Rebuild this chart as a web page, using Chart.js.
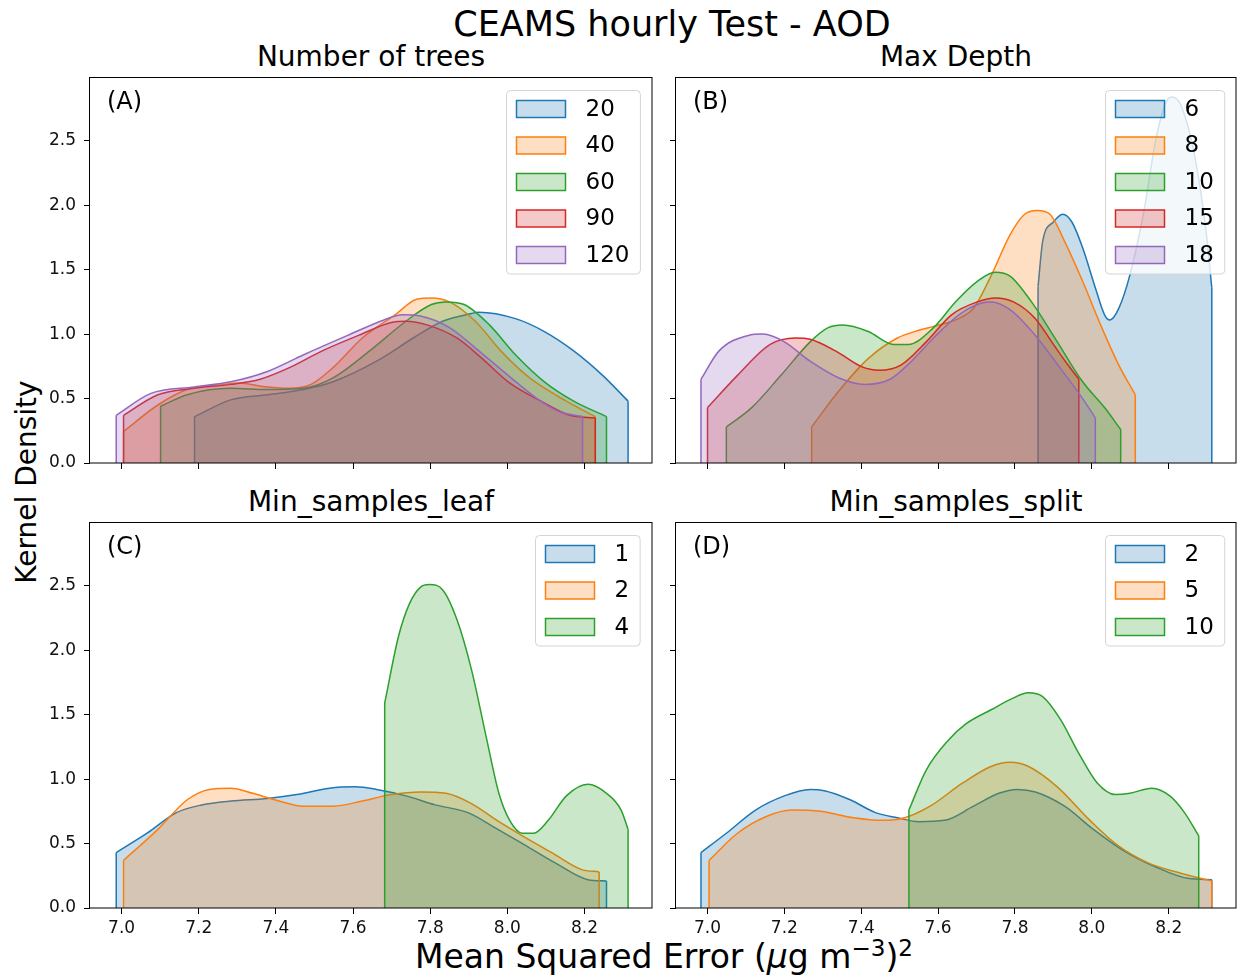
<!DOCTYPE html>
<html>
<head>
<meta charset="utf-8">
<title>CEAMS hourly Test - AOD</title>
<script src="https://cdn.jsdelivr.net/npm/chart.js@4.4.0/dist/chart.umd.min.js"></script>
<style>
  html, body { margin: 0; padding: 0; background: #fff; overflow: hidden; }
  #figure { position: relative; width: 1238px; height: 978px; font-family: 'DejaVu Sans', sans-serif; color: #000; }
  #figure canvas { position: absolute; }
  .txt { position: absolute; white-space: nowrap; line-height: 1; }
  .center { transform: translateX(-50%); }
  .suptitle { font-size: 35px; }
  .subtitle { font-size: 28px; }
  .tag { font-size: 24px; }
  .xlabel { font-size: 33px; }
  .ylabel { font-size: 28px; }
  #ylabel { transform: translate(-50%, -50%) rotate(-90deg); }
  sup { font-size: 0.7em; vertical-align: 0.5em; line-height: 0; }
</style>
</head>
<body>
<div id="figure">
  <div class="txt center suptitle" style="left:672px; top:7px;">CEAMS hourly Test - AOD</div>
  <div class="txt center subtitle" style="left:371px; top:43px;">Number of trees</div>
  <div class="txt center subtitle" style="left:956px; top:43px;">Max Depth</div>
  <div class="txt center subtitle" style="left:371px; top:488px;">Min_samples_leaf</div>
  <div class="txt center subtitle" style="left:956px; top:488px;">Min_samples_split</div>
  <div class="txt center xlabel" style="left:664px; top:940px;">Mean Squared Error (<i>μ</i>g m<sup>−3</sup>)<sup>2</sup></div>
  <div class="txt ylabel" id="ylabel" style="left:27px; top:482px;">Kernel Density</div>
</div>

<script>
// axis ticks
const xTicks = [7.0, 7.2, 7.4, 7.6, 7.8, 8.0, 8.2];
const xTickLabels = ['7.0', '7.2', '7.4', '7.6', '7.8', '8.0', '8.2'];
const yTicks = [0, 0.5, 1.0, 1.5, 2.0, 2.5];
const yTickLabels = ['0.0', '0.5', '1.0', '1.5', '2.0', '2.5'];

// (A) Number of trees  -- [MSE, density]
const treesLabels = ['20', '40', '60', '90', '120'];
const trees20 = [[7.189,0.36],[7.283,0.49],[7.378,0.53],[7.472,0.57],[7.548,0.63],[7.661,0.79],[7.756,0.97],[7.832,1.10],[7.907,1.16],[7.926,1.17],[8.021,1.12],[8.096,1.02],[8.172,0.87],[8.247,0.68],[8.313,0.48]];
const trees40 = [[7.005,0.245],[7.094,0.45],[7.170,0.57],[7.265,0.61],[7.302,0.62],[7.378,0.59],[7.435,0.58],[7.491,0.61],[7.548,0.74],[7.624,0.97],[7.709,1.15],[7.765,1.27],[7.803,1.28],[7.850,1.25],[7.917,1.10],[7.983,0.87],[8.058,0.66],[8.153,0.48],[8.228,0.36]];
const trees60 = [[7.101,0.44],[7.170,0.53],[7.283,0.58],[7.378,0.57],[7.472,0.58],[7.548,0.66],[7.643,0.87],[7.737,1.10],[7.803,1.23],[7.841,1.25],[7.888,1.23],[7.954,1.07],[8.021,0.84],[8.096,0.63],[8.172,0.48],[8.257,0.36]];
const trees90 = [[7.005,0.37],[7.094,0.53],[7.189,0.58],[7.283,0.61],[7.359,0.65],[7.435,0.74],[7.520,0.87],[7.614,0.99],[7.699,1.09],[7.737,1.10],[7.794,1.07],[7.869,0.97],[7.935,0.81],[8.002,0.63],[8.087,0.48],[8.162,0.37],[8.228,0.35]];
const trees120 = [[6.986,0.37],[7.076,0.54],[7.189,0.59],[7.283,0.63],[7.378,0.71],[7.472,0.84],[7.586,0.99],[7.680,1.11],[7.728,1.15],[7.775,1.14],[7.850,1.05],[7.926,0.87],[8.002,0.68],[8.077,0.50],[8.134,0.40],[8.195,0.36]];

// (B) Max Depth
const depthLabels = ['6', '8', '10', '15', '18'];
const depth6 = [[7.860,1.37],[7.872,1.72],[7.900,1.87],[7.924,1.93],[7.948,1.87],[7.976,1.67],[8.009,1.36],[8.033,1.15],[8.047,1.11],[8.070,1.20],[8.099,1.46],[8.137,1.98],[8.165,2.49],[8.193,2.80],[8.208,2.84],[8.231,2.78],[8.269,2.36],[8.297,1.80],[8.312,1.36]];
const depth8 = [[7.271,0.28],[7.342,0.56],[7.418,0.81],[7.494,0.97],[7.550,1.03],[7.588,1.06],[7.645,1.11],[7.692,1.20],[7.739,1.46],[7.787,1.77],[7.825,1.93],[7.858,1.96],[7.891,1.93],[7.929,1.72],[7.976,1.41],[8.023,1.07],[8.070,0.76],[8.113,0.53]];
const depth10 = [[7.049,0.28],[7.115,0.43],[7.191,0.68],[7.267,0.94],[7.314,1.05],[7.352,1.07],[7.418,1.02],[7.484,0.92],[7.522,0.92],[7.588,1.05],[7.645,1.25],[7.702,1.41],[7.749,1.48],[7.787,1.45],[7.843,1.25],[7.910,0.94],[7.976,0.63],[8.033,0.43],[8.075,0.26]];
const depth15 = [[7.000,0.43],[7.078,0.68],[7.163,0.92],[7.229,0.97],[7.267,0.96],[7.333,0.87],[7.399,0.75],[7.446,0.72],[7.503,0.76],[7.569,0.94],[7.635,1.15],[7.702,1.25],[7.749,1.28],[7.796,1.25],[7.853,1.12],[7.900,0.92],[7.938,0.76],[7.966,0.65]];
const depth18 = [[6.983,0.65],[7.030,0.87],[7.106,0.99],[7.144,1.00],[7.200,0.94],[7.267,0.79],[7.342,0.66],[7.409,0.61],[7.475,0.65],[7.531,0.79],[7.588,0.97],[7.654,1.15],[7.711,1.24],[7.739,1.25],[7.787,1.19],[7.853,0.99],[7.919,0.73],[7.976,0.50],[8.009,0.35]];

// (C) Min_samples_leaf
const leafLabels = ['1', '2', '4'];
const leaf1 = [[6.986,0.43],[7.066,0.58],[7.142,0.74],[7.208,0.80],[7.283,0.83],[7.378,0.85],[7.454,0.88],[7.539,0.93],[7.605,0.94],[7.661,0.92],[7.737,0.87],[7.813,0.80],[7.898,0.74],[7.964,0.63],[8.039,0.50],[8.124,0.35],[8.209,0.22],[8.257,0.21]];
const leaf2 = [[7.005,0.37],[7.094,0.61],[7.170,0.84],[7.227,0.92],[7.283,0.93],[7.340,0.89],[7.397,0.84],[7.472,0.79],[7.548,0.79],[7.624,0.83],[7.699,0.88],[7.775,0.90],[7.841,0.89],[7.907,0.81],[7.973,0.68],[8.039,0.56],[8.115,0.43],[8.191,0.30],[8.238,0.28]];
const leaf4 = [[7.682,1.59],[7.718,2.11],[7.746,2.36],[7.775,2.49],[7.798,2.51],[7.832,2.47],[7.869,2.24],[7.907,1.85],[7.945,1.33],[7.978,0.89],[8.006,0.68],[8.039,0.58],[8.068,0.58],[8.106,0.68],[8.153,0.87],[8.209,0.96],[8.257,0.89],[8.295,0.76],[8.313,0.61]];

// (D) Min_samples_split
const splitLabels = ['2', '5', '10'];
const split2 = [[6.983,0.43],[7.049,0.58],[7.125,0.76],[7.200,0.87],[7.267,0.92],[7.304,0.91],[7.371,0.84],[7.437,0.74],[7.494,0.70],[7.550,0.67],[7.617,0.68],[7.692,0.79],[7.758,0.89],[7.806,0.92],[7.853,0.90],[7.929,0.79],[8.004,0.61],[8.080,0.45],[8.165,0.32],[8.250,0.23],[8.312,0.22]];
const split5 = [[7.004,0.37],[7.078,0.58],[7.153,0.71],[7.219,0.76],[7.295,0.75],[7.380,0.70],[7.456,0.68],[7.513,0.70],[7.579,0.79],[7.664,0.97],[7.739,1.10],[7.787,1.13],[7.834,1.10],[7.910,0.94],[7.995,0.68],[8.070,0.48],[8.146,0.35],[8.231,0.27],[8.312,0.21]];
const split10 = [[7.524,0.76],[7.569,1.07],[7.626,1.30],[7.673,1.43],[7.739,1.54],[7.796,1.63],[7.834,1.67],[7.872,1.64],[7.919,1.46],[7.966,1.20],[8.014,0.97],[8.061,0.88],[8.099,0.89],[8.156,0.93],[8.203,0.87],[8.241,0.74],[8.278,0.56]];

const tab10 = ['#1f77b4', '#ff7f0e', '#2ca02c', '#d62728', '#9467bd'];

const X_MIN = 6.918, X_MAX = 8.375;
const Y_MIN = 0, Y_MAX = 2.995;
const PAD_TOP = 22, X_AXIS_H = 40;

function rgba(hex, a) {
  const n = parseInt(hex.slice(1), 16);
  return `rgba(${(n >> 16) & 255}, ${(n >> 8) & 255}, ${n & 255}, ${a})`;
}

// vertical edges where each clipped kde starts / stops
const edgePlugin = {
  id: 'kdeEdges',
  afterDatasetDraw(chart, args) {
    const ds = chart.data.datasets[args.index];
    const pts = ds.data;
    const xs = chart.scales.x, ys = chart.scales.y;
    const base = ys.getPixelForValue(0);
    const ctx = chart.ctx;
    ctx.save();
    ctx.strokeStyle = ds.borderColor;
    ctx.lineWidth = ds.borderWidth;
    ctx.beginPath();
    [pts[0], pts[pts.length - 1]].forEach(pt => {
      const px = xs.getPixelForValue(pt.x);
      ctx.moveTo(px, base);
      ctx.lineTo(px, ys.getPixelForValue(pt.y));
    });
    ctx.stroke();
    ctx.restore();
  }
};

// matplotlib-like legend box in the upper right corner
const legendPlugin = {
  id: 'boxLegend',
  afterDatasetsDraw(chart) {
    const { ctx, chartArea } = chart;
    const sets = chart.data.datasets;
    ctx.save();
    ctx.font = '23px "DejaVu Sans"';
    const textW = Math.max(...sets.map(d => ctx.measureText(d.label).width));
    const rowH = 36.5;
    const w = 10 + 49 + 20 + textW + 11;
    const h = 18.5 + (sets.length - 1) * rowH + 19;
    const x = Math.round(chartArea.right - 12 - w) + 0.5;
    const y = Math.round(chartArea.top + 13) + 0.5;
    ctx.beginPath();
    ctx.roundRect(x, y, w, h, 4);
    ctx.fillStyle = 'rgba(255,255,255,0.8)';
    ctx.fill();
    ctx.strokeStyle = '#d4d4d4';
    ctx.lineWidth = 1;
    ctx.stroke();
    sets.forEach((d, i) => {
      const cy = y + 18.5 + i * rowH;
      ctx.fillStyle = d.backgroundColor;
      ctx.fillRect(x + 10, cy - 8.5, 49, 17);
      ctx.strokeStyle = d.borderColor;
      ctx.lineWidth = 1.5;
      ctx.strokeRect(x + 10, cy - 8.5, 49, 17);
      ctx.fillStyle = '#000';
      ctx.textBaseline = 'middle';
      ctx.fillText(d.label, x + 79, cy + 1);
    });
    ctx.restore();
  }
};

// full box around the axes
const framePlugin = {
  id: 'frame',
  afterDraw(chart) {
    const { ctx, chartArea: a } = chart;
    ctx.save();
    ctx.strokeStyle = '#000';
    ctx.lineWidth = 1;
    ctx.strokeRect(Math.round(a.left) - 0.5, Math.round(a.top) + 0.5,
      Math.round(a.right - a.left) + 0.5, Math.round(a.bottom - a.top) - 0.5);
    ctx.restore();
  }
};

const panels = [
  { tag: '(A)', labels: treesLabels, curves: [trees20, trees40, trees60, trees90, trees120],
    left: 90, top: 77, right: 652, bottom: 463, xLabels: false, yLabels: true },
  { tag: '(B)', labels: depthLabels, curves: [depth6, depth8, depth10, depth15, depth18],
    left: 676, top: 77, right: 1236, bottom: 463, xLabels: false, yLabels: false },
  { tag: '(C)', labels: leafLabels, curves: [leaf1, leaf2, leaf4],
    left: 90, top: 522, right: 652, bottom: 908, xLabels: true, yLabels: true },
  { tag: '(D)', labels: splitLabels, curves: [split2, split5, split10],
    left: 676, top: 522, right: 1236, bottom: 908, xLabels: true, yLabels: false }
];

const figure = document.getElementById('figure');
const tickFont = { family: 'DejaVu Sans', size: 17 };

panels.forEach(p => {
  const yW = p.yLabels ? 60 : 14;
  const canvas = document.createElement('canvas');
  canvas.width = yW + (p.right - p.left) + 2;
  canvas.height = PAD_TOP + (p.bottom - p.top) + X_AXIS_H;
  canvas.style.left = (p.left - yW) + 'px';
  canvas.style.top = (p.top - PAD_TOP) + 'px';
  figure.appendChild(canvas);

  const tag = document.createElement('div');
  tag.className = 'txt tag';
  tag.textContent = p.tag;
  tag.style.left = (p.left + 17) + 'px';
  tag.style.top = (p.top + 12) + 'px';
  figure.appendChild(tag);

  new Chart(canvas, {
    type: 'line',
    data: {
      datasets: p.curves.map((pts, i) => ({
        label: p.labels[i],
        data: pts.map(([x, y]) => ({ x, y })),
        borderColor: tab10[i],
        backgroundColor: rgba(tab10[i], 0.25),
        borderWidth: 1.5,
        fill: 'origin',
        pointRadius: 0,
        cubicInterpolationMode: 'monotone',
        order: -i
      }))
    },
    options: {
      responsive: false,
      animation: false,
      devicePixelRatio: 1,
      layout: { padding: { left: 0, top: PAD_TOP, right: 2, bottom: 0 } },
      plugins: { legend: { display: false }, tooltip: { enabled: false } },
      scales: {
        x: {
          type: 'linear',
          min: X_MIN,
          max: X_MAX,
          afterBuildTicks: axis => { axis.ticks = xTicks.map(v => ({ value: v })); },
          afterFit: axis => { axis.height = X_AXIS_H; },
          ticks: {
            font: tickFont,
            color: '#111',
            padding: 4,
            maxRotation: 0,
            callback: (v, i) => p.xLabels ? xTickLabels[i] : ''
          },
          grid: { drawOnChartArea: false, drawTicks: true, tickLength: 6, color: '#000', lineWidth: 1 },
          border: { display: false }
        },
        y: {
          type: 'linear',
          min: Y_MIN,
          max: Y_MAX,
          afterBuildTicks: axis => { axis.ticks = yTicks.map(v => ({ value: v })); },
          afterFit: axis => { axis.width = yW; },
          ticks: {
            font: tickFont,
            color: '#111',
            padding: 8,
            callback: (v, i) => p.yLabels ? yTickLabels[i] : ''
          },
          grid: { drawOnChartArea: false, drawTicks: true, tickLength: 6, color: '#000', lineWidth: 1 },
          border: { display: false }
        }
      }
    },
    plugins: [edgePlugin, legendPlugin, framePlugin]
  });
});
</script>
</body>
</html>
